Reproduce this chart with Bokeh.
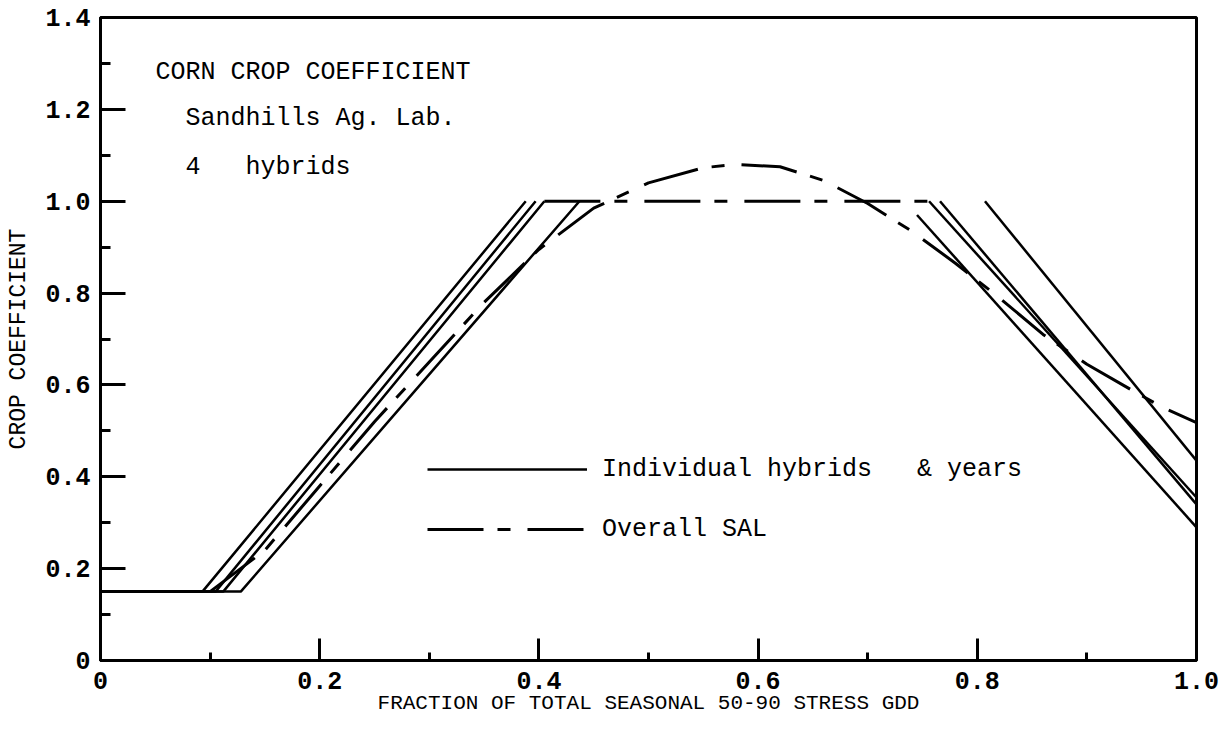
from bokeh.plotting import figure
from bokeh.models import Range1d, FixedTicker, CustomJSTickFormatter, Legend, LegendItem
from bokeh.core.properties import value
from bokeh.embed import file_html
from bokeh.resources import INLINE

FONT = "Liberation Mono"
NB = "\u00a0"

# ---- axis ticks ----
x_ticks = [0.0, 0.2, 0.4, 0.6, 0.8, 1.0]
x_minor = [0.1, 0.3, 0.5, 0.7, 0.9]
y_ticks = [0.0, 0.2, 0.4, 0.6, 0.8, 1.0, 1.2, 1.4]
y_minor = [0.1, 0.3, 0.5, 0.7, 0.9, 1.1, 1.3]

# ---- data ----
x_min = 0.0
x_max = 1.0
base_kc = 0.15
peak_kc = 1.0

# individual hybrids & years: rising limbs
rise_start = [0.093, 0.105, 0.112, 0.128]
rise_end = [0.388, 0.397, 0.405, 0.437]
# falling limbs
fall_start_x = [0.745, 0.756, 0.766, 0.807]
fall_start_y = [0.97, 1.0, 1.0, 1.0]
fall_end_y = [0.29, 0.355, 0.34, 0.435]

# overall SAL curve
sal_x = [0.10, 0.15, 0.20, 0.25, 0.30, 0.35, 0.40, 0.45, 0.50, 0.55, 0.58,
         0.62, 0.66, 0.70, 0.74, 0.78, 0.82, 0.86, 0.90, 0.94, 0.97, 1.00]
sal_y = [0.15, 0.24, 0.38, 0.52, 0.65, 0.78, 0.895, 0.985, 1.04, 1.073, 1.08,
         1.075, 1.045, 0.995, 0.935, 0.865, 0.79, 0.71, 0.645, 0.59, 0.55, 0.518]
# overall SAL plateau
sal_flat_x = [0.405, 0.757]
sal_flat_y = [1.0, 1.0]

note_text = ["CORN CROP COEFFICIENT", "Sandhills Ag. Lab.", "4" + NB * 3 + "hybrids"]
legend_labels = ["Individual hybrids " + NB * 2 + "& years", "Overall SAL"]

# ---- figure ----
p = figure(width=1219, height=720,
           x_range=Range1d(0, 1.0), y_range=Range1d(0, 1.4),
           output_backend="svg", toolbar_location=None,
           min_border_left=100, min_border_right=23,
           min_border_top=17, min_border_bottom=60)
p.background_fill_color = "white"
p.border_fill_color = "white"
p.outline_line_color = "black"
p.outline_line_width = 3
p.xgrid.visible = False
p.ygrid.visible = False

fmt = CustomJSTickFormatter(code="return tick == 0 ? '0' : tick.toFixed(1);")

xa = p.xaxis[0]
xa.ticker = FixedTicker(ticks=x_ticks, minor_ticks=x_minor)
xa.major_tick_in = 22
xa.minor_tick_in = 8
xa.major_label_standoff = 11
xa.axis_label = "FRACTION OF TOTAL SEASONAL 50-90 STRESS GDD"
xa.axis_label_text_font_size = "21px"
xa.axis_label_standoff = 0

ya = p.yaxis[0]
ya.ticker = FixedTicker(ticks=y_ticks, minor_ticks=y_minor)
ya.major_tick_in = 25
ya.minor_tick_in = 10
ya.major_label_standoff = 10
ya.axis_label = "CROP COEFFICIENT"
ya.axis_label_text_font_size = "23px"
ya.axis_label_standoff = 10

for ax in (xa, ya):
    ax.formatter = fmt
    ax.axis_line_width = 3
    ax.axis_line_color = "black"
    ax.major_tick_line_width = 3
    ax.minor_tick_line_width = 3
    ax.major_tick_line_color = "black"
    ax.minor_tick_line_color = "black"
    ax.major_tick_out = 0
    ax.minor_tick_out = 0
    ax.major_label_text_font = FONT
    ax.major_label_text_font_size = "25px"
    ax.major_label_text_font_style = "bold"
    ax.major_label_text_color = "black"
    ax.axis_label_text_font = FONT
    ax.axis_label_text_font_style = "normal"
    ax.axis_label_text_color = "black"

# ---- individual lines ----
xs = [[x_min, s, e] for s, e in zip(rise_start, rise_end)]
ys = [[base_kc, base_kc, peak_kc] for _ in rise_start]
xs += [[sx, x_max] for sx in fall_start_x]
ys += [[sy, ey] for sy, ey in zip(fall_start_y, fall_end_y)]
r_ind = p.multi_line(xs, ys, line_color="black", line_width=2.5)

# ---- overall SAL ----
sal_dash = "56 14 13 17"
r_sal = p.line(sal_x, sal_y, line_color="black", line_width=3, line_dash=sal_dash)
p.line(sal_flat_x, sal_flat_y, line_color="black", line_width=3, line_dash=sal_dash)

# ---- annotations ----
p.text(x=[0.0502, 0.0776, 0.0776], y=[1.280, 1.180, 1.073], text=note_text,
       text_font=value(FONT), text_font_size="25px", text_font_style="normal",
       text_color="black", text_baseline="middle", text_align="left")

# ---- legend ----
legend = Legend(items=[LegendItem(label=legend_labels[0], renderers=[r_ind]),
                       LegendItem(label=legend_labels[1], renderers=[r_sal])],
                location=(327, 116), glyph_width=160, glyph_height=30,
                label_height=30, label_standoff=15, spacing=30,
                padding=0, margin=0, border_line_alpha=0,
                background_fill_alpha=0,
                label_text_font=FONT, label_text_font_size="25px",
                label_text_font_style="normal", label_text_color="black")
p.add_layout(legend)

open("out.html", "w").write(file_html(p, INLINE))
